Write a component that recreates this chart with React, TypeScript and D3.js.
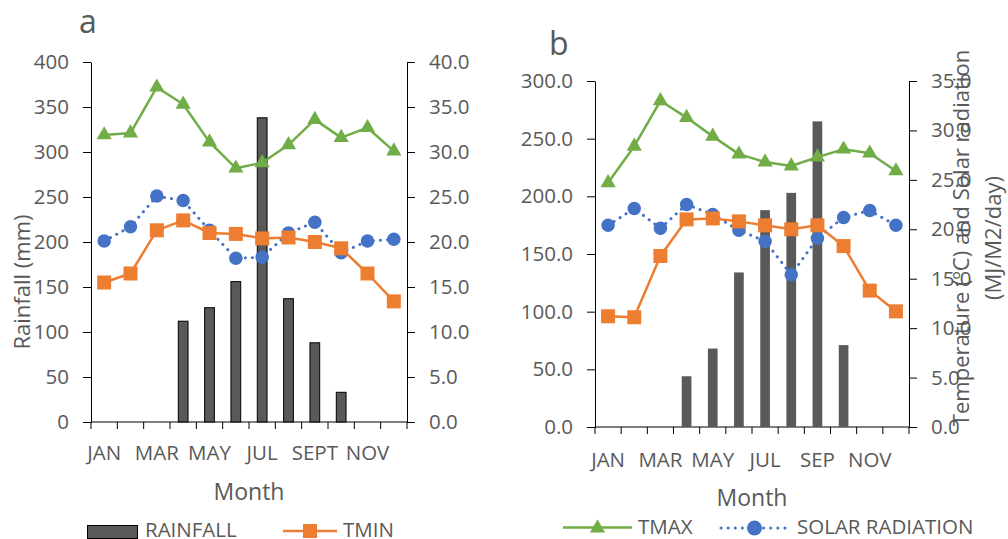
import { useEffect, useRef } from 'react'
import * as d3 from 'd3'

const months = ['JAN', 'FEB', 'MAR', 'APR', 'MAY', 'JUN', 'JUL', 'AUG', 'SEP', 'OCT', 'NOV', 'DEC']
const tickLabelsA = ['JAN', '', 'MAR', '', 'MAY', '', 'JUL', '', 'SEPT', '', 'NOV', '']
const tickLabelsB = ['JAN', '', 'MAR', '', 'MAY', '', 'JUL', '', 'SEP', '', 'NOV', '']

// panel a
const rainfallA = [0, 0, 0, 112, 127, 156, 338, 137, 88, 33, 0, 0]
const tmaxA = [31.9, 32.1, 37.2, 35.3, 31.1, 28.2, 28.8, 30.8, 33.6, 31.6, 32.7, 30.1]
const tminA = [15.5, 16.5, 21.3, 22.4, 21.0, 20.9, 20.4, 20.5, 20.0, 19.3, 16.5, 13.4]
const solarA = [20.1, 21.7, 25.1, 24.6, 21.3, 18.2, 18.3, 21.0, 22.2, 18.8, 20.1, 20.3]
const leftTicksA = [0, 50, 100, 150, 200, 250, 300, 350, 400]
const rightTicksA = [0, 5, 10, 15, 20, 25, 30, 35, 40]

// panel b
const rainfallB = [0, 0, 0, 44, 68, 134, 188, 203, 265, 71, 0, 0]
const tmaxB = [24.7, 28.4, 33.0, 31.3, 29.4, 27.6, 26.8, 26.4, 27.3, 28.1, 27.7, 25.9]
const tminB = [11.2, 11.1, 17.3, 21.0, 21.1, 20.8, 20.4, 20.0, 20.4, 18.3, 13.8, 11.7]
const solarB = [20.4, 22.1, 20.1, 22.5, 21.5, 19.9, 18.8, 15.4, 19.1, 21.2, 21.9, 20.4]
const leftTicksB = [0, 50, 100, 150, 200, 250, 300]
const rightTicksB = [0, 5, 10, 15, 20, 25, 30, 35]

const GREEN = '#70AD47'
const ORANGE = '#ED7D31'
const BLUE = '#4472C4'
const BAR = '#595959'
const TEXT = '#595959'
const FONT = '"Open Sans", sans-serif'

interface PanelCfg {
  x0: number; x1: number; yTop: number; yBot: number
  rain: number[]; tmax: number[]; tmin: number[]; solar: number[]
  leftTicks: number[]; rightTicks: number[]
  leftFmt: (v: number) => string
  labels: string[]
  labelPad: number
  barStroke: boolean
}

function drawPanel(svg: d3.Selection<SVGSVGElement, unknown, null, undefined>, cfg: PanelCfg) {
  const g = svg.append('g')
  const x = d3.scaleBand().domain(months).range([cfg.x0, cfg.x1]).padding(0)
  const yL = d3.scaleLinear().domain([0, d3.max(cfg.leftTicks)!]).range([cfg.yBot, cfg.yTop])
  const yR = d3.scaleLinear().domain([0, d3.max(cfg.rightTicks)!]).range([cfg.yBot, cfg.yTop])
  const cx = (i: number) => (x(months[i]) || 0) + x.bandwidth() / 2
  const barW = x.bandwidth() * 0.37

  // left axis
  const la = g.append('g')
    .attr('transform', `translate(${cfg.x0},0)`)
    .call(d3.axisLeft(yL).tickValues(cfg.leftTicks).tickSize(8).tickSizeOuter(0).tickPadding(14)
      .tickFormat(d => cfg.leftFmt(Number(d))))
  // right axis
  const ra = g.append('g')
    .attr('transform', `translate(${cfg.x1},0)`)
    .call(d3.axisRight(yR).tickValues(cfg.rightTicks).tickSize(8).tickSizeOuter(0).tickPadding(14)
      .tickFormat(d => d3.format('.1f')(Number(d))))
  // bottom labels
  const ba = g.append('g')
    .attr('transform', `translate(0,${cfg.yBot})`)
    .call(d3.axisBottom(x).tickSize(0).tickPadding(cfg.labelPad).tickFormat((d, i) => cfg.labels[i]))
  ba.select('.domain').remove()
  ;[la, ra, ba].forEach(a => {
    a.attr('font-family', FONT).attr('font-size', 20.5).style('color', '#000')
    a.selectAll('text').attr('fill', TEXT)
  })

  // category boundary ticks + x axis line
  const bounds = months.map(m => x(m) || 0).concat([cfg.x1])
  g.append('g').selectAll('line').data(bounds).enter().append('line')
    .attr('x1', d => d).attr('x2', d => d)
    .attr('y1', cfg.yBot).attr('y2', cfg.yBot + 7)
    .attr('stroke', '#000').attr('stroke-width', 1)
  g.append('line')
    .attr('x1', cfg.x0).attr('x2', cfg.x1)
    .attr('y1', cfg.yBot).attr('y2', cfg.yBot)
    .attr('stroke', '#000').attr('stroke-width', 1)

  // rainfall bars
  g.append('g').selectAll('rect')
    .data(cfg.rain.map((v, i) => ({ v, i })).filter(d => d.v > 0))
    .enter().append('rect')
    .attr('x', d => cx(d.i) - barW / 2)
    .attr('y', d => yL(d.v))
    .attr('width', barW)
    .attr('height', d => cfg.yBot - yL(d.v))
    .attr('fill', BAR)
    .attr('stroke', cfg.barStroke ? '#000' : 'none')
    .attr('stroke-width', 1)

  const line = d3.line<number>().x((d, i) => cx(i)).y(d => yR(d))

  // tmax
  g.append('path').attr('d', line(cfg.tmax)).attr('fill', 'none')
    .attr('stroke', GREEN).attr('stroke-width', 2.5).attr('stroke-linejoin', 'round')
  g.append('g').selectAll('path').data(cfg.tmax).enter().append('path')
    .attr('d', d3.symbol(d3.symbolTriangle, 100)())
    .attr('transform', (d, i) => `translate(${cx(i)},${yR(d)})`)
    .attr('fill', GREEN)

  // solar radiation
  g.append('path').attr('d', line(cfg.solar)).attr('fill', 'none')
    .attr('stroke', BLUE).attr('stroke-width', 3).attr('stroke-linecap', 'round')
    .attr('stroke-dasharray', '0.1 7')
  g.append('g').selectAll('circle').data(cfg.solar).enter().append('circle')
    .attr('cx', (d, i) => cx(i)).attr('cy', d => yR(d)).attr('r', 6.75)
    .attr('fill', BLUE)

  // tmin
  g.append('path').attr('d', line(cfg.tmin)).attr('fill', 'none')
    .attr('stroke', ORANGE).attr('stroke-width', 2.5).attr('stroke-linejoin', 'round')
  g.append('g').selectAll('rect').data(cfg.tmin).enter().append('rect')
    .attr('x', (d, i) => cx(i) - 7).attr('y', d => yR(d) - 7)
    .attr('width', 14).attr('height', 14)
    .attr('fill', ORANGE)
}

export default function App() {
  const svgRef = useRef<SVGSVGElement>(null)

  useEffect(() => {
    if (!svgRef.current) return
    const svg = d3.select(svgRef.current)
    svg.selectAll('*').remove()

    drawPanel(svg, {
      x0: 91, x1: 407, yTop: 62, yBot: 422,
      rain: rainfallA, tmax: tmaxA, tmin: tminA, solar: solarA,
      leftTicks: leftTicksA, rightTicks: rightTicksA,
      leftFmt: v => d3.format('d')(v),
      labels: tickLabelsA, labelPad: 23, barStroke: true
    })
    drawPanel(svg, {
      x0: 595, x1: 909, yTop: 81, yBot: 427,
      rain: rainfallB, tmax: tmaxB, tmin: tminB, solar: solarB,
      leftTicks: leftTicksB, rightTicks: rightTicksB,
      leftFmt: v => d3.format('.1f')(v),
      labels: tickLabelsB, labelPad: 25, barStroke: false
    })

    const txt = (x: number, y: number, s: string, size: number, anchor = 'start', rot = 0) =>
      svg.append('text')
        .attr('transform', `translate(${x},${y}) rotate(${rot})`)
        .attr('text-anchor', anchor)
        .attr('font-family', FONT).attr('font-size', size)
        .attr('fill', TEXT).text(s)

    // panel letters
    txt(79, 33, 'a', 32)
    txt(549, 55, 'b', 32)

    // axis titles
    txt(249, 500, 'Month', 23, 'middle')
    txt(752, 506, 'Month', 23, 'middle')
    txt(30, 282, 'Rainfall (mm)', 22, 'middle', -90)
    txt(969, 238, 'Temperature (ºC) and Solar radiation', 22, 'middle', -90)
    txt(1001, 238, '(MJ/M2/day)', 22, 'middle', -90)

    // legend: rainfall
    svg.append('rect').attr('x', 87.5).attr('y', 525.5).attr('width', 50).attr('height', 13)
      .attr('fill', BAR).attr('stroke', '#000').attr('stroke-width', 1)
    txt(145, 536.5, 'RAINFALL', 20.5)
    // legend: tmin
    svg.append('line').attr('x1', 283).attr('x2', 337).attr('y1', 531).attr('y2', 531)
      .attr('stroke', ORANGE).attr('stroke-width', 2.5)
    svg.append('rect').attr('x', 303).attr('y', 524).attr('width', 14).attr('height', 14).attr('fill', ORANGE)
    txt(343, 536.5, 'TMIN', 20.5)
    // legend: tmax
    svg.append('line').attr('x1', 563).attr('x2', 632).attr('y1', 527.5).attr('y2', 527.5)
      .attr('stroke', GREEN).attr('stroke-width', 2.5)
    svg.append('path').attr('d', d3.symbol(d3.symbolTriangle, 100)())
      .attr('transform', 'translate(597.5,528)').attr('fill', GREEN)
    txt(638, 534, 'TMAX', 20.5)
    // legend: solar radiation
    svg.append('line').attr('x1', 721).attr('x2', 789).attr('y1', 528).attr('y2', 528)
      .attr('stroke', BLUE).attr('stroke-width', 3).attr('stroke-linecap', 'round')
      .attr('stroke-dasharray', '0.1 7')
    svg.append('circle').attr('cx', 754.5).attr('cy', 528).attr('r', 7.5).attr('fill', BLUE)
    txt(797, 534, 'SOLAR RADIATION', 20.5)
  }, [])

  return (
    <svg ref={svgRef} width={1008} height={539}
      style={{ position: 'absolute', left: 0, top: 0, background: '#fff' }} />
  )
}
